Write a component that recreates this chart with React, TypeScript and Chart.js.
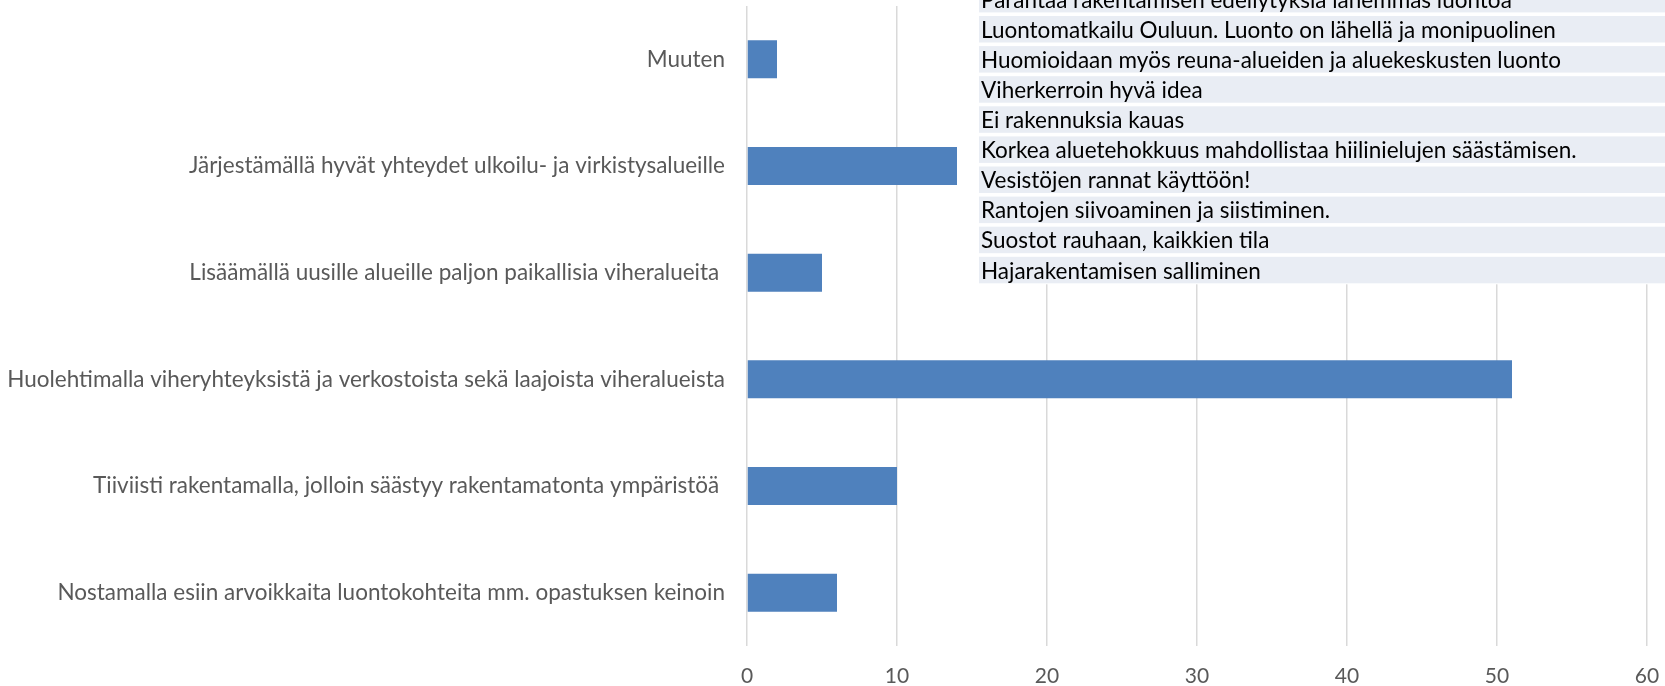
import { useEffect, useRef } from "react";
import { Chart, registerables } from "chart.js";

Chart.register(...registerables);

const categories = [
  "Muuten",
  "Järjestämällä hyvät yhteydet ulkoilu- ja virkistysalueille",
  "Lisäämällä uusille alueille paljon paikallisia viheralueita ",
  "Huolehtimalla viheryhteyksistä ja verkostoista sekä laajoista viheralueista",
  "Tiiviisti rakentamalla, jolloin säästyy rakentamatonta ympäristöä ",
  "Nostamalla esiin arvoikkaita luontokohteita mm. opastuksen keinoin",
];

const values = [2, 14, 5, 51, 10, 6];

const xMin = 0;
const xMax = 60;
const xStep = 10;

const notes = [
  "Parantaa rakentamisen edellytyksiä lähemmäs luontoa",
  "Luontomatkailu Ouluun. Luonto on lähellä ja monipuolinen",
  "Huomioidaan myös reuna-alueiden ja aluekeskusten luonto",
  "Viherkerroin hyvä idea",
  "Ei rakennuksia kauas",
  "Korkea aluetehokkuus mahdollistaa hiilinielujen säästämisen.",
  "Vesistöjen rannat käyttöön!",
  "Rantojen siivoaminen ja siistiminen.",
  "Suostot rauhaan, kaikkien tila",
  "Hajarakentamisen salliminen",
];

const FONT = "Lato, 'Liberation Sans', sans-serif";

const notesPlugin = {
  id: "notesTable",
  afterDraw(chart: any) {
    const ctx = chart.ctx;
    const left = 979;
    const right = chart.width;
    const pitch = 30.1;
    const bandH = 26.5;
    const firstTop = -14.1;
    ctx.save();
    ctx.fillStyle = "#FFFFFF";
    const lastBottom = firstTop + (notes.length - 1) * pitch + bandH;
    ctx.fillRect(left, 0, right - left, lastBottom + 1);
    ctx.font = `22.5px ${FONT}`;
    ctx.textBaseline = "alphabetic";
    ctx.textAlign = "left";
    notes.forEach((t, i) => {
      const top = firstTop + i * pitch;
      ctx.fillStyle = "#E9EDF4";
      ctx.fillRect(left, top, right - left, bandH);
      ctx.fillStyle = "#000000";
      ctx.fillText(t, left + 2, top + 21.7);
    });
    ctx.restore();
  },
};

export default function App() {
  const ref = useRef<HTMLCanvasElement | null>(null);

  useEffect(() => {
    if (!ref.current) return;
    const chart = new Chart(ref.current, {
      type: "bar",
      data: {
        labels: categories,
        datasets: [
          {
            data: values,
            backgroundColor: "#4F81BD",
            borderWidth: 0,
            categoryPercentage: 1,
            barPercentage: 0.356,
          },
        ],
      },
      options: {
        indexAxis: "y",
        animation: false,
        responsive: false,
        maintainAspectRatio: false,
        layout: { padding: { top: 6, right: 18, left: 0, bottom: 0 } },
        plugins: {
          legend: { display: false },
          title: { display: false },
          tooltip: { enabled: false },
        },
        scales: {
          x: {
            type: "linear",
            min: xMin,
            max: xMax,
            ticks: {
              stepSize: xStep,
              color: "#595959",
              font: { family: FONT, size: 21 },
              padding: 18,
            },
            grid: {
              color: "#D9D9D9",
              lineWidth: 1.5,
              drawTicks: false,
            },
            border: { display: false },
            afterFit(scale: any) {
              scale.height = 40;
              scale.paddingLeft = 0;
              scale.paddingRight = 0;
            },
          },
          y: {
            ticks: {
              color: "#595959",
              font: { family: FONT, size: 22.5 },
              padding: 22,
            },
            grid: { display: false, drawTicks: false },
            border: { display: false },
            afterFit(scale: any) {
              scale.width = 747;
              scale.paddingTop = 0;
              scale.paddingBottom = 0;
            },
          },
        },
      },
      plugins: [notesPlugin],
    });
    return () => chart.destroy();
  }, []);

  return (
    <div style={{ position: "absolute", left: 0, top: 0, width: 1665, height: 686, background: "#fff" }}>
      <canvas ref={ref} width={1665} height={686} style={{ display: "block" }} />
    </div>
  );
}
